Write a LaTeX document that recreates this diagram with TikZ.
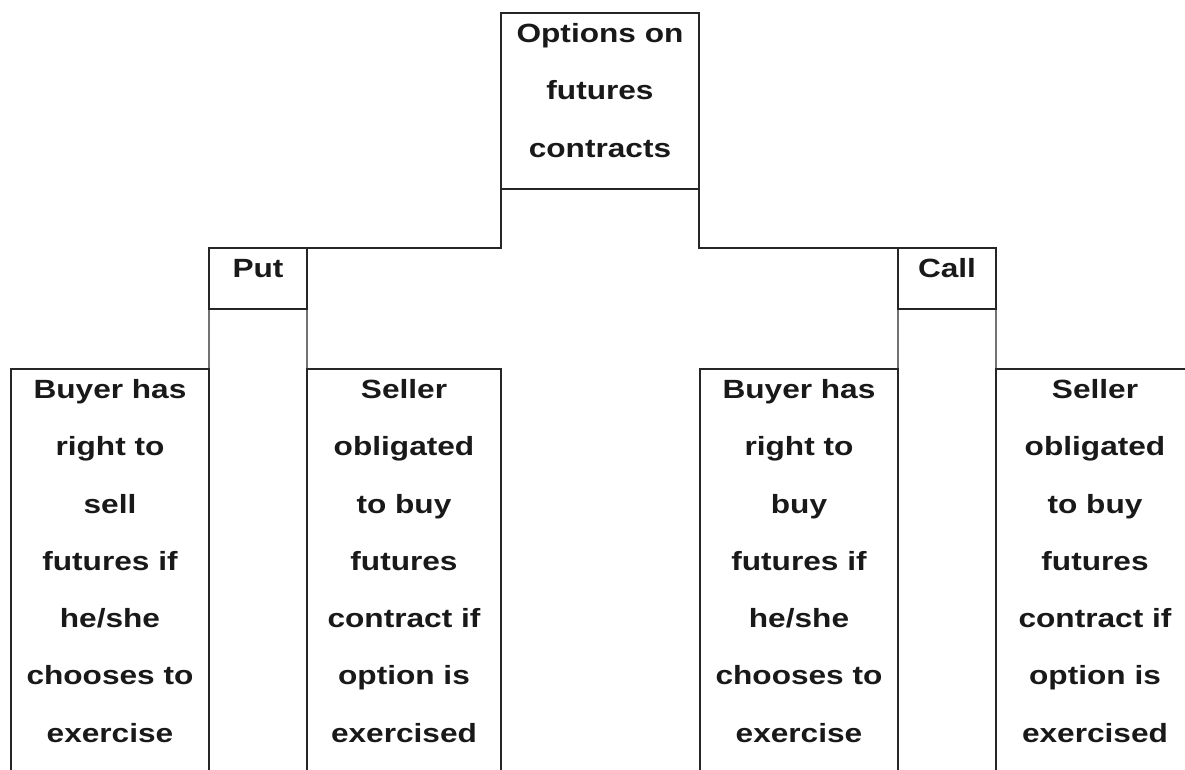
\documentclass[tikz,border=0pt]{standalone}
\usepackage{fontspec}
\setmainfont[FakeStretch=1.2]{Liberation Sans}

\begin{document}
\begin{tikzpicture}[x=0.02cm, y=-0.02cm, line width=0.7pt,
  box/.style={draw=black!85, anchor=north west, inner sep=0pt, outer sep=0pt,
    align=center, text height=0.59cm, text=black!90,
    font=\fontsize{15}{32.6}\selectfont\bfseries},
  head/.style={box, text width=3.96cm, text depth=2.93cm},
  kind/.style={box, text width=1.96cm, text depth=0.63cm},
  leaf/.style={box, text width=#1, text depth=8cm},
  leaf/.default=3.96cm]
  \useasboundingbox (0,0) rectangle (1185,769);
  \clip (0,0) rectangle (1185,769);

  \node[head] (opt) at (501,13) {Options on\\futures\\contracts};

  \node[kind] (put) at (209,248) {Put};
  \node[kind] (call) at (898,248) {Call};

  % put side
  \node[leaf] (lbuy) at (11,369)
    {Buyer has\\right to\\sell\\futures if\\he/she\\chooses to\\exercise};
  \node[leaf=3.88cm] (lsell) at (307,369)
    {Seller\\obligated\\to buy\\futures\\contract if\\option is\\exercised};

  % call side
  \node[leaf] (rbuy) at (700,369)
    {Buyer has\\right to\\buy\\futures if\\he/she\\chooses to\\exercise};
  \node[leaf] (rsell) at (996,369)
    {Seller\\obligated\\to buy\\futures\\contract if\\option is\\exercised};

  \draw[black!85] (opt.south west) |- (put.north east);
  \draw[black!85] (opt.south east) |- (call.north west);
  \draw[black!85] (put.south west) -- (lbuy.north east);
  \draw[black!85] (put.south east) -- (lsell.north west);
  \draw[black!85] (call.south west) -- (rbuy.north east);
  \draw[black!85] (call.south east) -- (rsell.north west);
\end{tikzpicture}
\end{document}
